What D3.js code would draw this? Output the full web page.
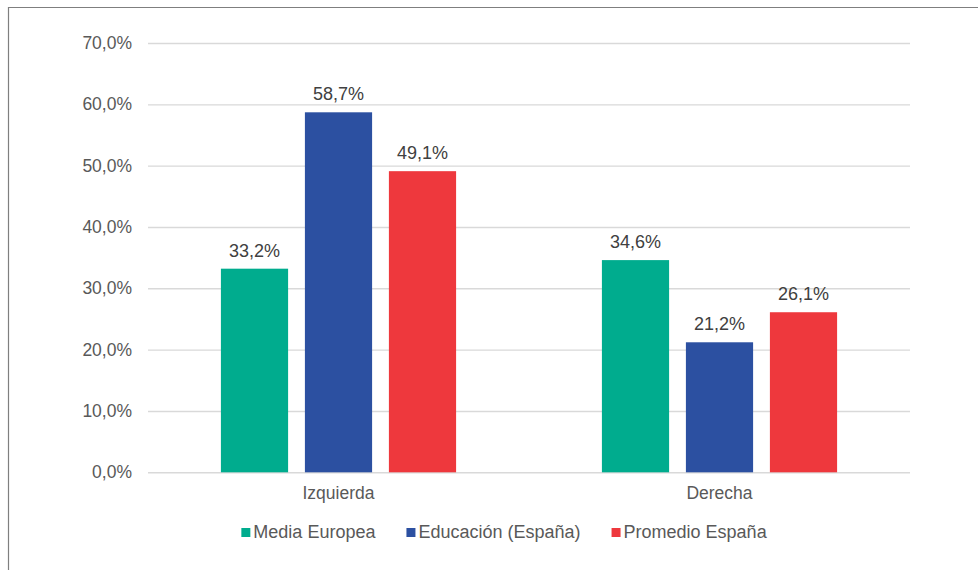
<!DOCTYPE html>
<html lang="es">
<head>
<meta charset="utf-8">
<title>Izquierda / Derecha</title>
<script src="https://cdn.jsdelivr.net/npm/d3@7"></script>
<style>
  html, body { margin: 0; padding: 0; background: #fff; }
  svg { display: block; font-family: "Liberation Sans", Arial, sans-serif; }
</style>
</head>
<body>
<svg id="chart" width="978" height="570"></svg>
<script>
// Data
const categories = ["Izquierda", "Derecha"];
const seriesNames = ["Media Europea", "Educación (España)", "Promedio España"];
const mediaEuropea = [0.332, 0.346];
const educacionEspana = [0.587, 0.212];
const promedioEspana = [0.491, 0.261];
const yTicks = [0, 0.1, 0.2, 0.3, 0.4, 0.5, 0.6, 0.7];

const seriesValues = [mediaEuropea, educacionEspana, promedioEspana];
const colors = ["#00AC8E", "#2C50A1", "#EE383D"];

const locale = d3.formatLocale({ decimal: ",", thousands: ".", grouping: [3], currency: ["", " €"] });
const pct = locale.format(".1%");

const svg = d3.select("#chart");

// Frame (left and top edges)
svg.append("path")
  .attr("d", "M8.5,572 V7.5 H980")
  .attr("fill", "none")
  .attr("stroke", "#7f7f7f")
  .attr("stroke-width", 1.2);

const plot = { left: 148, right: 910, top: 43, bottom: 472.3 };

const x0 = d3.scaleBand().domain(categories).range([plot.left, plot.right]).padding(0);
const x1 = d3.scaleBand().domain(seriesNames).range([0, x0.bandwidth()])
  .paddingInner(0.2).paddingOuter(0.868);
const y = d3.scaleLinear().domain([0, 0.7]).range([plot.bottom, plot.top]);

// Gridlines + tick labels
const yAxis = d3.axisLeft(y).tickValues(yTicks).tickFormat(pct)
  .tickSize(-(plot.right - plot.left)).tickPadding(16);
const gy = svg.append("g").attr("transform", `translate(${plot.left},0)`).call(yAxis);
gy.select(".domain").remove();
gy.selectAll(".tick line").attr("stroke", "#d9d9d9").attr("stroke-width", 1.4);
gy.selectAll(".tick text")
  .attr("fill", "#595959")
  .attr("font-size", 17.5)
  .attr("font-family", "Liberation Sans, Arial, sans-serif");

// Bars
const groups = svg.append("g").selectAll("g")
  .data(categories)
  .join("g")
  .attr("transform", d => `translate(${x0(d)},0)`);

const cells = groups.selectAll("g.cell")
  .data((c, ci) => seriesNames.map((s, si) => ({ s, si, v: seriesValues[si][ci] })))
  .join("g").attr("class", "cell");

cells.append("rect")
  .attr("x", d => x1(d.s))
  .attr("y", d => y(d.v))
  .attr("width", x1.bandwidth())
  .attr("height", d => y(0) - y(d.v))
  .attr("fill", d => colors[d.si]);

cells.append("text")
  .attr("x", d => x1(d.s) + x1.bandwidth() / 2)
  .attr("y", d => y(d.v) - 12)
  .attr("text-anchor", "middle")
  .attr("fill", "#404040")
  .attr("font-size", 18)
  .text(d => pct(d.v));

// Category labels
const xAxis = d3.axisBottom(x0).tickSize(0).tickPadding(14);
const gx = svg.append("g").attr("transform", `translate(0,${plot.bottom})`).call(xAxis);
gx.select(".domain").remove();
gx.selectAll(".tick text")
  .attr("fill", "#595959")
  .attr("font-size", 17.5)
  .attr("font-family", "Liberation Sans, Arial, sans-serif");

// Legend
const legend = svg.append("g");
const legendItems = legend.selectAll("g")
  .data(seriesNames)
  .join("g");
legendItems.append("rect")
  .attr("width", 9).attr("height", 9)
  .attr("y", 528)
  .attr("fill", (d, i) => colors[i]);
legendItems.append("text")
  .attr("x", 12)
  .attr("y", 538)
  .attr("fill", "#595959")
  .attr("font-size", 18)
  .text(d => d);

// flow the legend items, centred under the chart
const gap = 31;
let cursor = 0;
const offsets = [];
legendItems.each(function () {
  const w = 12 + d3.select(this).select("text").node().getComputedTextLength();
  offsets.push(cursor);
  cursor += w + gap;
});
const total = cursor - gap;
const startX = 504 - total / 2;
legendItems.attr("transform", (d, i) => `translate(${startX + offsets[i]},0)`);
</script>
</body>
</html>
